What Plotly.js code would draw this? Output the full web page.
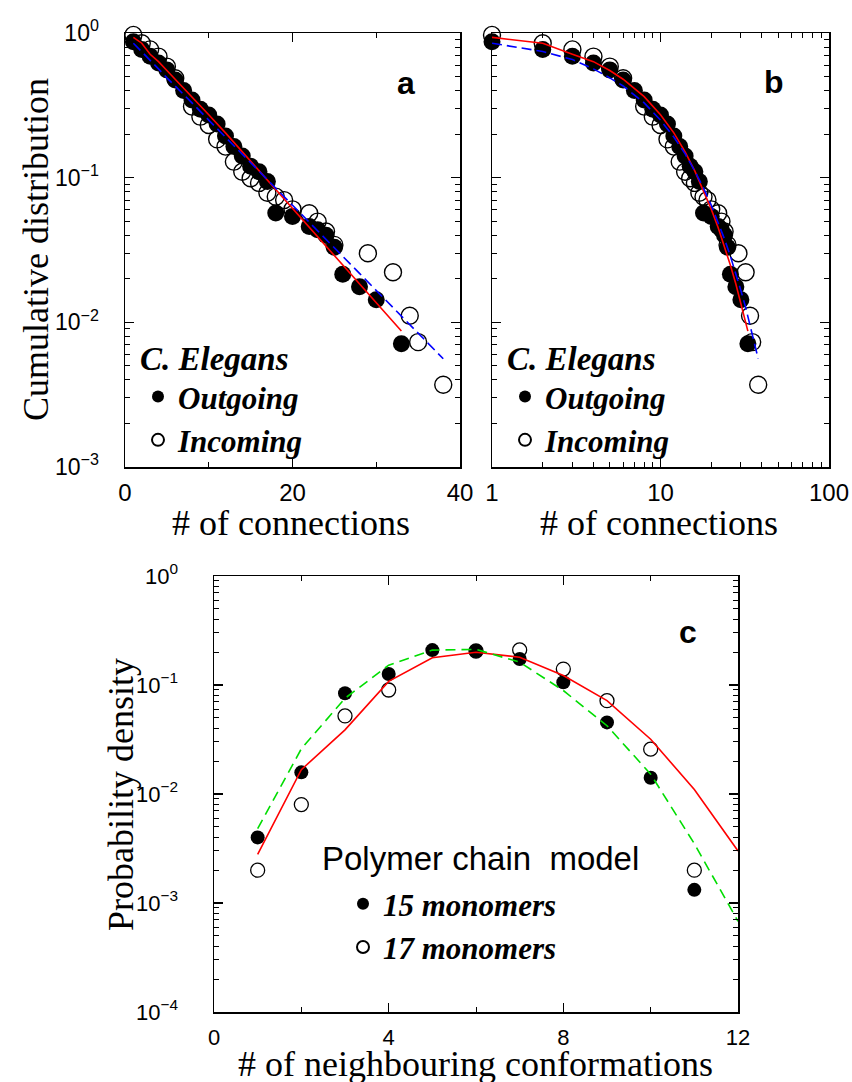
<!DOCTYPE html>
<html><head><meta charset="utf-8">
<script src="https://cdn.plot.ly/plotly-3.0.1.min.js"></script>
<style>html,body{margin:0;padding:0;background:#fff}#chart{width:852px;height:1082px}</style>
</head><body><div id="chart"></div>
<script>
// ---- C. Elegans connections (panels a and b share the data) ----
const kOutgoing = [1,2,3,4,5,6,7,8,9,10,11,12,13,14,15,16,17,18,20,22,23,24,25,26,28,30,33];
const cumOutgoing = [0.87,0.77,0.69,0.62,0.556,0.474,0.40,0.344,0.297,0.271,0.235,0.194,0.164,0.141,0.120,0.110,0.094,0.057,0.054,0.046,0.0436,0.040,0.033,0.0215,0.0176,0.0143,0.0071];
const kIncoming = [1,2,3,4,5,6,8,9,10,11,12,13,14,15,16,17,18,19,20,22,23,24,25,29,32,34,35,38];
const cumIncoming = [0.97,0.85,0.77,0.687,0.586,0.487,0.31,0.264,0.231,0.184,0.164,0.129,0.110,0.099,0.092,0.0787,0.0739,0.070,0.0604,0.0567,0.0497,0.0424,0.0343,0.030,0.0222,0.0111,0.0073,0.0037];
// fitted curves
const redFitK = [1,2,3,4,5,6,8,10,12,14,16,18,20,22,24,26,28,30,32,33];
const redFitY = [0.933,0.85,0.713,0.634,0.55,0.479,0.363,0.272,0.204,0.151,0.111,0.0817,0.0606,0.045,0.0333,0.0248,0.0184,0.0136,0.0101,0.0087];
const blueFitK = [1,2,3,4,5,6,8,10,12,14,16,18,20,22,24,26,28,30,32,34,36,38];
const blueFitY = [0.85,0.745,0.655,0.565,0.49,0.43,0.329,0.25,0.191,0.146,0.111,0.0847,0.0646,0.0492,0.0375,0.0286,0.0218,0.0166,0.0127,0.00966,0.00736,0.0056];

// ---- Polymer chain model (panel c) ----
const nb15 = [1,2,3,4,5,6,7,8,9,10,11];
const p15 = [0.0040,0.0158,0.084,0.126,0.209,0.205,0.173,0.106,0.0454,0.0141,0.00132];
const nb17 = [1,2,3,4,6,7,8,9,10,11];
const p17 = [0.0020,0.0080,0.052,0.090,0.205,0.21,0.140,0.0718,0.0258,0.0020];
const curveX = [1,2,3,4,5,6,7,8,9,10,11,12];
const redCurveY = [0.0028,0.0167,0.0388,0.108,0.178,0.20,0.18,0.122,0.072,0.0318,0.011,0.0030];
const greenCurveY = [0.0048,0.026,0.0755,0.152,0.209,0.212,0.162,0.089,0.0423,0.0152,0.0035,0.00068];

// ---- tick labels ----
const linTicksA = [0,20,40];
const linTicksAText = ['0','20','40'];
const logTicksB = [1,10,100];
const logTicksBText = ['1','10','100'];
const linTicksC = [0,4,8,12];
const linTicksCText = ['0','4','8','12'];
const cumTicks = [1,0.1,0.01,0.001];
const cumTicksText = ['10<sup>0</sup>','10<sup>\u22121</sup>','10<sup>\u22122</sup>','10<sup>\u22123</sup>'];
const probTicks = [1,0.1,0.01,0.001,0.0001];
const probTicksText = ['10<sup>0</sup>','10<sup>\u22121</sup>','10<sup>\u22122</sup>','10<sup>\u22123</sup>','10<sup>\u22124</sup>'];

function minorLog(lo, hi){ const v=[]; for(let e=lo;e<hi;e++){for(let m=2;m<=9;m++) v.push(m*Math.pow(10,e));} return v; }

const W=852, H=1082;
const px = x => x/W, py = y => 1 - y/H;

const serif = 'Liberation Serif, Times New Roman, serif';
const sans = 'Liberation Sans, Arial, sans-serif';

const openMarkerBig = {symbol:'circle-open', size:17, color:'#000', line:{width:1.4, color:'#000'}};
const fillMarkerBig = {symbol:'circle', size:17, color:'#000', line:{width:0}};
const openMarkerSm = {symbol:'circle-open', size:14, color:'#000', line:{width:1.3, color:'#000'}};
const fillMarkerSm = {symbol:'circle', size:14, color:'#000', line:{width:0}};

function cePanel(xa, ya, lg){
  return [
    {x:kIncoming, y:cumIncoming, xaxis:xa, yaxis:ya, mode:'markers', marker:openMarkerBig, name:'<b><i>Incoming</i></b>', legend:lg, legendrank:2, cliponaxis:false},
    {x:kOutgoing, y:cumOutgoing, xaxis:xa, yaxis:ya, mode:'markers', marker:fillMarkerBig, name:'<b><i>Outgoing</i></b>', legend:lg, legendrank:1, cliponaxis:false},
    {x:redFitK, y:redFitY, xaxis:xa, yaxis:ya, mode:'lines', line:{color:'#ff0000', width:1.6}, showlegend:false},
    {x:blueFitK, y:blueFitY, xaxis:xa, yaxis:ya, mode:'lines', line:{color:'#0000ff', width:1.6, dash:'10px,5px'}, showlegend:false}
  ];
}

const data = [].concat(
  cePanel('x','y','legend'),
  cePanel('x2','y2','legend2'),
  [
    {x:nb17, y:p17, xaxis:'x3', yaxis:'y3', mode:'markers', marker:openMarkerSm, name:'<b><i>17 monomers</i></b>', legend:'legend3', legendrank:2, cliponaxis:false},
    {x:nb15, y:p15, xaxis:'x3', yaxis:'y3', mode:'markers', marker:fillMarkerSm, name:'<b><i>15 monomers</i></b>', legend:'legend3', legendrank:1, cliponaxis:false},
    {x:curveX, y:redCurveY, xaxis:'x3', yaxis:'y3', mode:'lines', line:{color:'#ff0000', width:1.6}, showlegend:false},
    {x:curveX, y:greenCurveY, xaxis:'x3', yaxis:'y3', mode:'lines', line:{color:'#00dd00', width:1.6, dash:'10px,6px'}, showlegend:false}
  ]
);

function axis(extra, size){
  return Object.assign({showline:true, linecolor:'#000', linewidth:1.5, mirror:'allticks', ticks:'inside', ticklen:9, tickwidth:1.3, tickcolor:'#000', showgrid:false, zeroline:false, tickfont:{family:sans, size:size, color:'#000'}, tickmode:'array'}, extra);
}
function minor(vals){ return {ticks:'inside', ticklen:5, tickwidth:1, tickcolor:'#000', tickmode:'array', tickvals:vals, showgrid:false}; }

const legendFont = {family:serif, size:31, color:'#000'};
const legendBase = {xanchor:'left', yanchor:'top', bgcolor:'rgba(0,0,0,0)', borderwidth:0, font:legendFont, itemsizing:'constant', traceorder:'normal'};

const layout = {
  width:W, height:H, autosize:false,
  margin:{l:0,r:0,t:0,b:0},
  paper_bgcolor:'#fff', plot_bgcolor:'#fff',
  showlegend:true,
  xaxis: axis({domain:[px(125),px(460)], anchor:'y', range:[0,40], tickvals:linTicksA, ticktext:linTicksAText, minor:minor([10,30]), ticklabelstandoff:4}, 24),
  yaxis: axis({domain:[py(467),py(33)], anchor:'x', type:'log', range:[-3,0], tickvals:cumTicks, ticktext:cumTicksText, minor:minor(minorLog(-3,0)), ticklabelstandoff:20}, 23),
  xaxis2: axis({domain:[px(492),px(829)], anchor:'y2', type:'log', range:[0,2], tickvals:logTicksB, ticktext:logTicksBText, minor:minor(minorLog(0,2)), ticklabelstandoff:4}, 24),
  yaxis2: axis({domain:[py(467),py(33)], anchor:'x2', type:'log', range:[-3,0], tickvals:cumTicks, ticktext:cumTicksText, showticklabels:false, minor:minor(minorLog(-3,0))}, 23),
  xaxis3: axis({domain:[px(214),px(738)], anchor:'y3', range:[0,12], tickvals:linTicksC, ticktext:linTicksCText, minor:minor([2,6,10]), ticklabelstandoff:5}, 22),
  yaxis3: axis({domain:[py(1012),py(576)], anchor:'x3', type:'log', range:[-4,0], tickvals:probTicks, ticktext:probTicksText, minor:minor(minorLog(-4,0)), ticklabelstandoff:30}, 22),
  legend: Object.assign({}, legendBase, {x:px(138), y:py(327), title:{text:'<b><i>C. Elegans</i></b>', font:{family:serif, size:33, color:'#000'}}}),
  legend2: Object.assign({}, legendBase, {x:px(505), y:py(327), title:{text:'<b><i>C. Elegans</i></b>', font:{family:serif, size:33, color:'#000'}}}),
  legend3: Object.assign({}, legendBase, {x:px(343), y:py(877)}),
  annotations: [
    {text:'Cumulative distribution', xref:'paper', yref:'paper', x:px(36), y:py(250), xanchor:'center', yanchor:'middle', textangle:-90, showarrow:false, font:{family:serif, size:36, color:'#000'}},
    {text:'# of connections', xref:'paper', yref:'paper', x:px(291), y:py(523), xanchor:'center', yanchor:'middle', showarrow:false, font:{family:serif, size:36, color:'#000'}},
    {text:'# of connections', xref:'paper', yref:'paper', x:px(659), y:py(523), xanchor:'center', yanchor:'middle', showarrow:false, font:{family:serif, size:36, color:'#000'}},
    {text:'Probability density', xref:'paper', yref:'paper', x:px(121), y:py(795), xanchor:'center', yanchor:'middle', textangle:-90, showarrow:false, font:{family:serif, size:36, color:'#000'}},
    {text:'# of neighbouring conformations', xref:'paper', yref:'paper', x:px(475), y:py(1064), xanchor:'center', yanchor:'middle', showarrow:false, font:{family:serif, size:36, color:'#000'}},
    {text:'<b>a</b>', xref:'paper', yref:'paper', x:px(406), y:py(83), xanchor:'center', yanchor:'middle', showarrow:false, font:{family:sans, size:32, color:'#000'}},
    {text:'<b>b</b>', xref:'paper', yref:'paper', x:px(774), y:py(82), xanchor:'center', yanchor:'middle', showarrow:false, font:{family:sans, size:32, color:'#000'}},
    {text:'<b>c</b>', xref:'paper', yref:'paper', x:px(688), y:py(632), xanchor:'center', yanchor:'middle', showarrow:false, font:{family:sans, size:32, color:'#000'}},
    {text:'Polymer chain\u00a0 model', xref:'paper', yref:'paper', x:px(320), y:py(858), xanchor:'left', yanchor:'middle', showarrow:false, font:{family:sans, size:33, color:'#000'}}
  ]
};

Plotly.newPlot('chart', data, layout, {staticPlot:true, displayModeBar:false});
</script></body></html>
